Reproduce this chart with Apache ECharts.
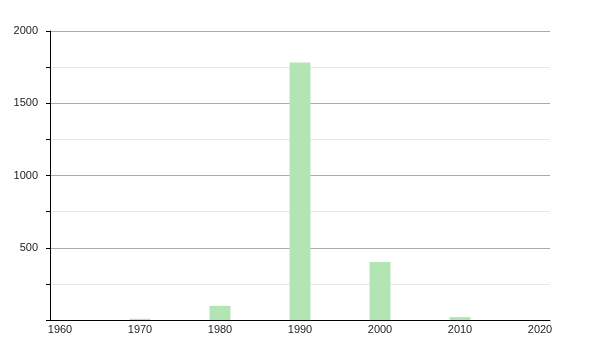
<!DOCTYPE html>
<html>
<head>
<meta charset="utf-8">
<script src="https://cdn.jsdelivr.net/npm/echarts@6/dist/echarts.min.js"></script>
<style>html,body{margin:0;padding:0;background:#fff}#c{width:600px;height:350px}</style>
</head>
<body>
<div id="c"></div>
<script>
var years = [1960, 1970, 1980, 1990, 2000, 2010, 2020];
var values = [0, 8, 98, 1782, 402, 20, 0];
var yTickLabels = [500, 1000, 1500, 2000];

var chart = echarts.init(document.getElementById('c'), null, {renderer: 'canvas'});
chart.setOption({
  animation: false,
  grid: {left: 50, right: 50, top: 31, bottom: 30, containLabel: false},
  xAxis: {
    type: 'value',
    min: 1958.75,
    max: 2021.25,
    splitNumber: 6,
    axisLine: {show: true, lineStyle: {color: '#000', width: 1}},
    axisTick: {show: false},
    splitLine: {show: false},
    axisLabel: {
      showMinLabel: false, showMaxLabel: false,
      color: '#222', fontSize: 11, fontFamily: 'Liberation Sans, Arial, sans-serif', margin: 4,
      formatter: function (v) { return years.indexOf(v) >= 0 ? String(v) : ''; }
    }
  },
  yAxis: {
    type: 'value',
    min: 0, max: 2000, interval: 250,
    axisLine: {show: true, lineStyle: {color: '#000', width: 1}},
    axisTick: {show: true, length: 4, lineStyle: {color: '#000'}},
    splitLine: {show: true, lineStyle: {color: ['#aaaaaa', '#e6e6e6'], width: 1}},
    axisLabel: {
      color: '#222', fontSize: 11, fontFamily: 'Liberation Sans, Arial, sans-serif', margin: 12,
      formatter: function (v) { return yTickLabels.indexOf(v) >= 0 ? String(v) : ''; }
    }
  },
  series: [{
    type: 'bar',
    data: years.map(function (y, i) { return [y, values[i]]; }),
    barWidth: 21,
    itemStyle: {color: '#b3e4b3'}
  }]
});
</script>
</body>
</html>
